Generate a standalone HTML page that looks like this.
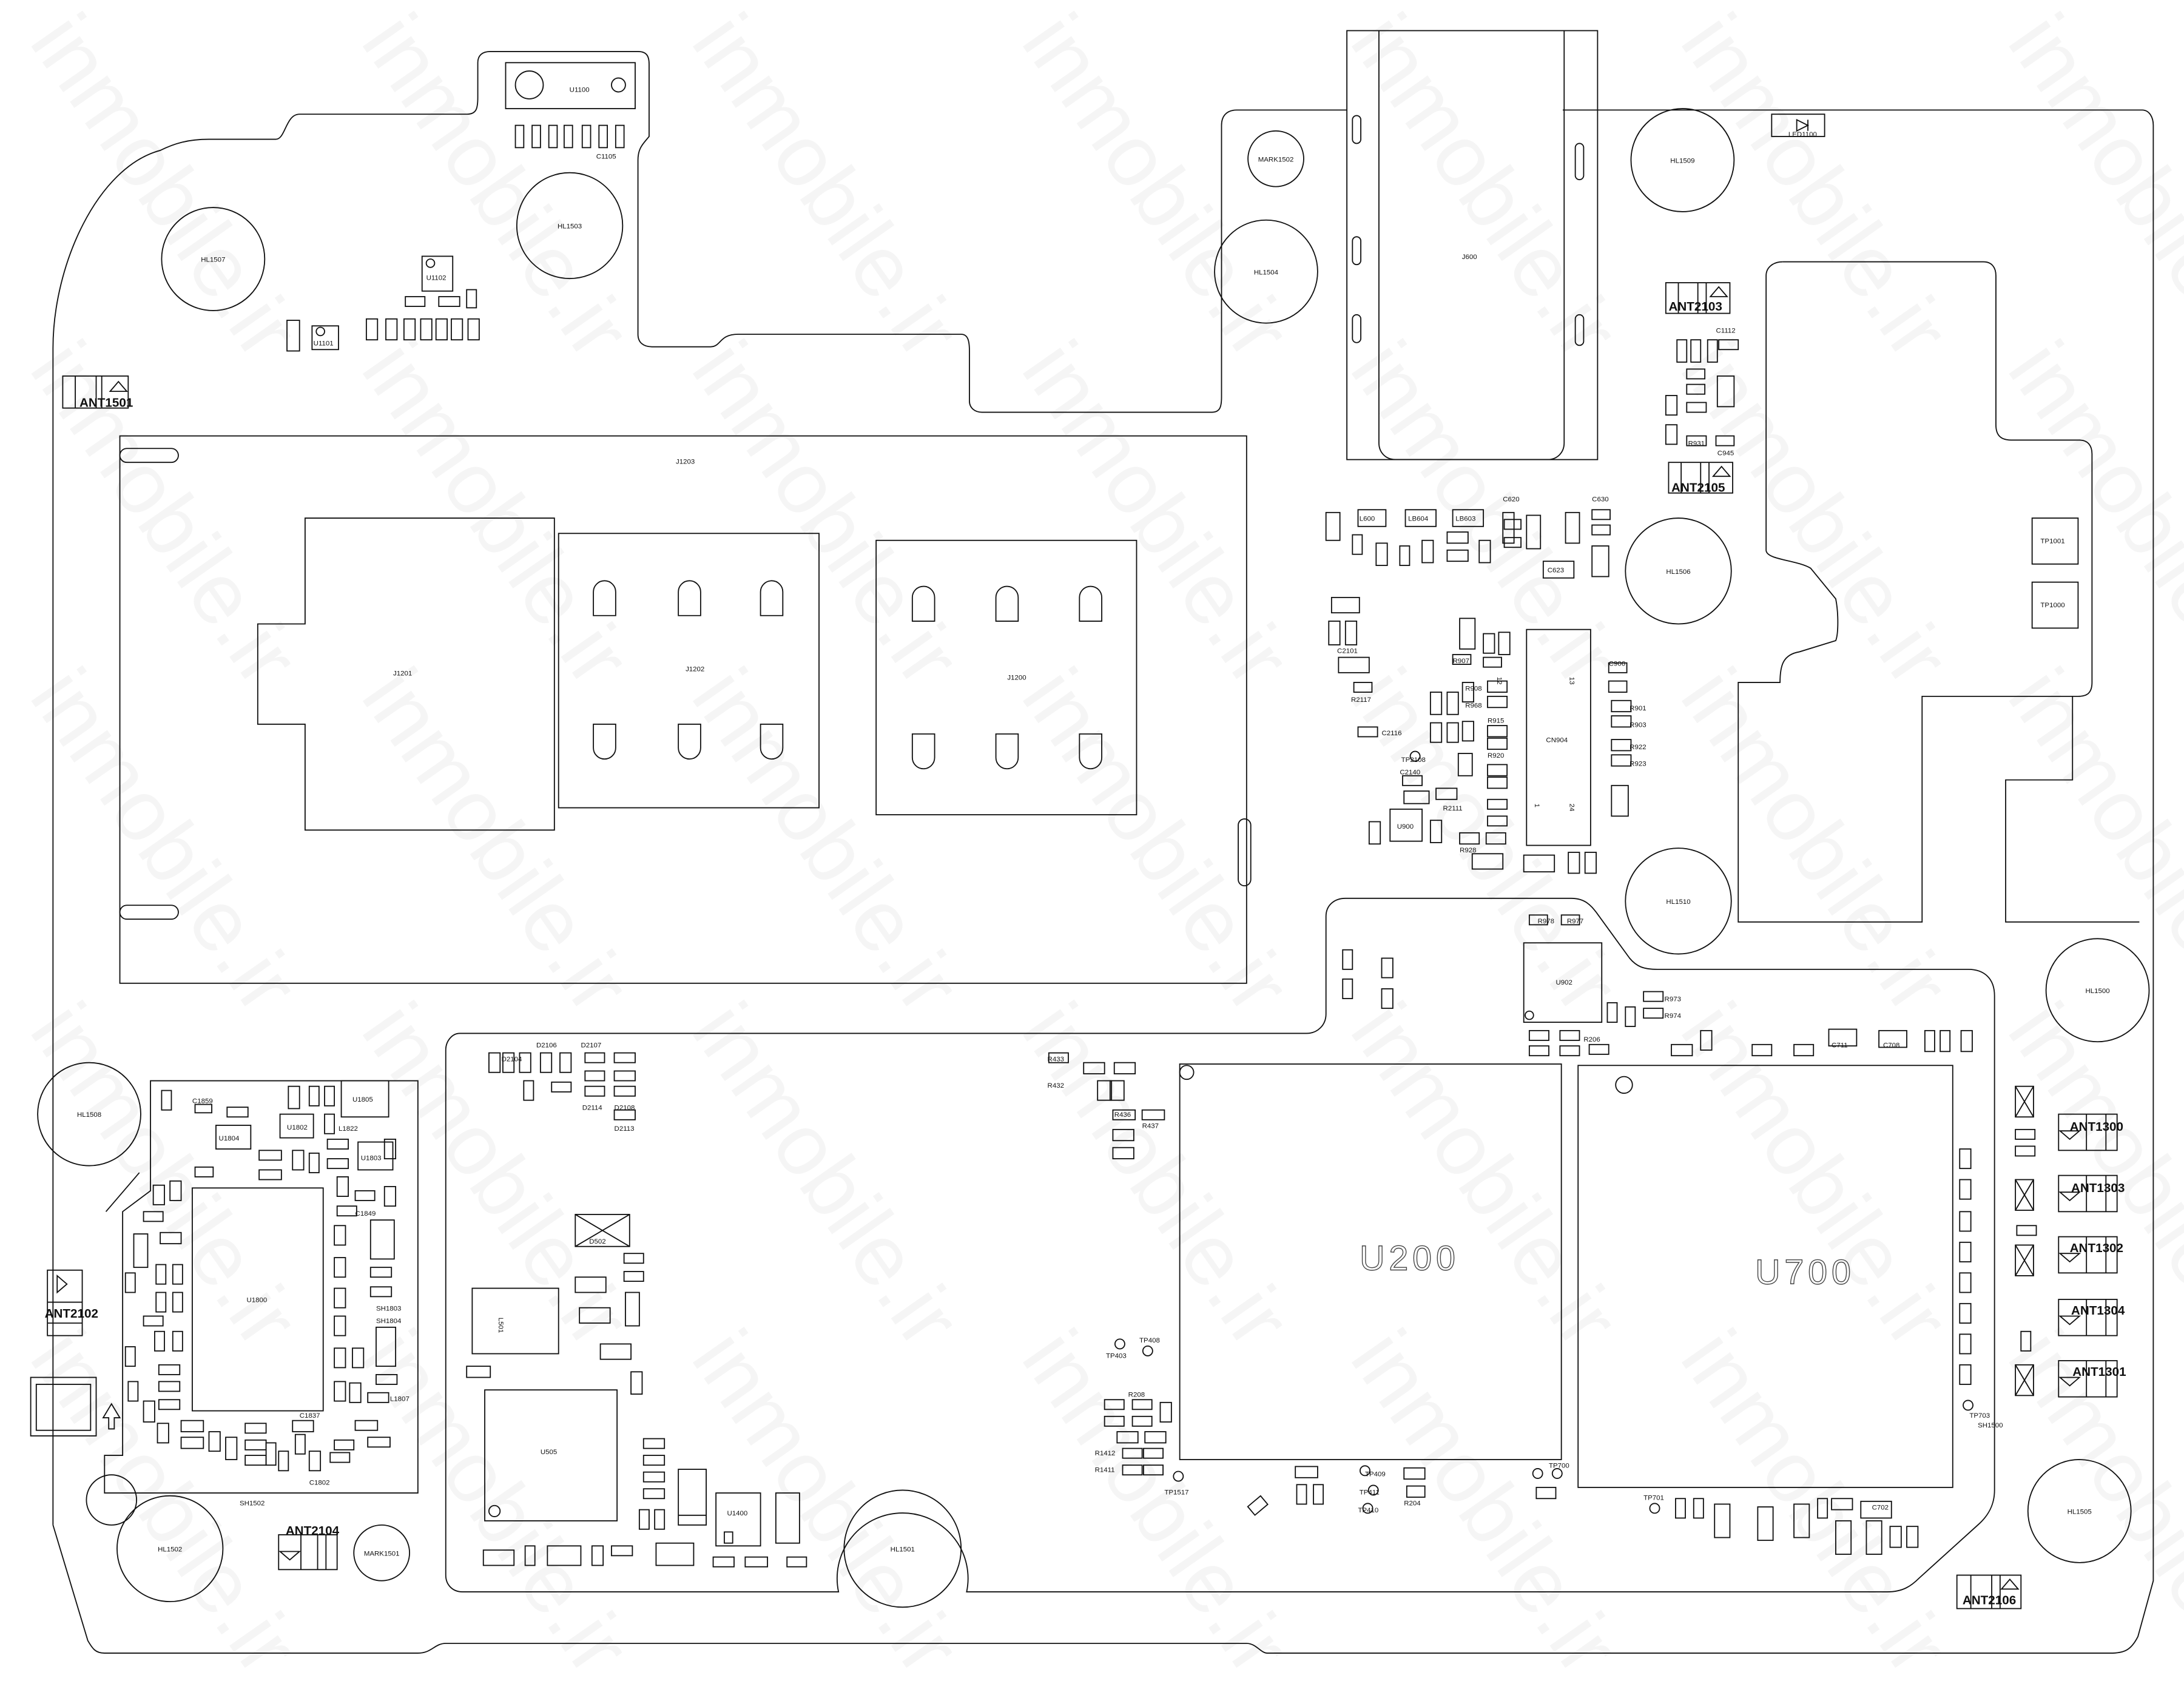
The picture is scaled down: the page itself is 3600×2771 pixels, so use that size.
<!DOCTYPE html>
<html><head><meta charset="utf-8"><style>
html,body{margin:0;padding:0;background:#fff}
svg{display:block}
text{font-family:"Liberation Sans",sans-serif;fill:#111}
.s{fill:none;stroke:#111;stroke-width:0.8}
.w{fill:#f5f5f5;font-size:62px;font-family:"Liberation Sans",sans-serif}
.l{font-size:5px}
.b{font-size:9px;font-weight:bold;font-family:"Liberation Sans Narrow","Liberation Sans",sans-serif}
</style></head><body>
<svg width="3600" height="2771" viewBox="0 0 1568 1207" xmlns="http://www.w3.org/2000/svg">
<rect width="1568" height="1207" fill="#fff"/>
<g>
<text class="w" transform="translate(20,30) rotate(55)">inmobile.ir</text>
<text class="w" transform="translate(258,30) rotate(55)">inmobile.ir</text>
<text class="w" transform="translate(495,30) rotate(55)">inmobile.ir</text>
<text class="w" transform="translate(732,30) rotate(55)">inmobile.ir</text>
<text class="w" transform="translate(968,30) rotate(55)">inmobile.ir</text>
<text class="w" transform="translate(1205,30) rotate(55)">inmobile.ir</text>
<text class="w" transform="translate(1440,30) rotate(55)">inmobile.ir</text>
<text class="w" transform="translate(20,265) rotate(55)">inmobile.ir</text>
<text class="w" transform="translate(258,265) rotate(55)">inmobile.ir</text>
<text class="w" transform="translate(495,265) rotate(55)">inmobile.ir</text>
<text class="w" transform="translate(732,265) rotate(55)">inmobile.ir</text>
<text class="w" transform="translate(968,265) rotate(55)">inmobile.ir</text>
<text class="w" transform="translate(1205,265) rotate(55)">inmobile.ir</text>
<text class="w" transform="translate(1440,265) rotate(55)">inmobile.ir</text>
<text class="w" transform="translate(20,500) rotate(55)">inmobile.ir</text>
<text class="w" transform="translate(258,500) rotate(55)">inmobile.ir</text>
<text class="w" transform="translate(495,500) rotate(55)">inmobile.ir</text>
<text class="w" transform="translate(732,500) rotate(55)">inmobile.ir</text>
<text class="w" transform="translate(968,500) rotate(55)">inmobile.ir</text>
<text class="w" transform="translate(1205,500) rotate(55)">inmobile.ir</text>
<text class="w" transform="translate(1440,500) rotate(55)">inmobile.ir</text>
<text class="w" transform="translate(20,740) rotate(55)">inmobile.ir</text>
<text class="w" transform="translate(258,740) rotate(55)">inmobile.ir</text>
<text class="w" transform="translate(495,740) rotate(55)">inmobile.ir</text>
<text class="w" transform="translate(732,740) rotate(55)">inmobile.ir</text>
<text class="w" transform="translate(968,740) rotate(55)">inmobile.ir</text>
<text class="w" transform="translate(1205,740) rotate(55)">inmobile.ir</text>
<text class="w" transform="translate(1440,740) rotate(55)">inmobile.ir</text>
<text class="w" transform="translate(20,975) rotate(55)">inmobile.ir</text>
<text class="w" transform="translate(258,975) rotate(55)">inmobile.ir</text>
<text class="w" transform="translate(495,975) rotate(55)">inmobile.ir</text>
<text class="w" transform="translate(732,975) rotate(55)">inmobile.ir</text>
<text class="w" transform="translate(968,975) rotate(55)">inmobile.ir</text>
<text class="w" transform="translate(1205,975) rotate(55)">inmobile.ir</text>
<text class="w" transform="translate(1440,975) rotate(55)">inmobile.ir</text>
</g>

<!-- board outline -->
<path class="s" d="M38,1095 L38,250 C38,190 70,120 115,108 C125,103 135,100 150,100 L198,100 C205,100 205,82 215,82 L335,82 C342,82 343,78 343,70 L343,45 C343,40 346,37 352,37 L458,37 C464,37 466,40 466,46 L466,98 C462,103 458,106 458,115 L458,240 C458,246 462,249 468,249 L510,249 C518,249 516,240 530,240 L690,240 C695,240 696,245 696,252 L696,288 C696,293 700,296 705,296 L870,296 C876,296 877,292 877,285 L877,90 C877,84 880,79 888,79 L967,79"/>
<path class="s" d="M1122,79 L1538,79 C1543,79 1546,84 1546,90 L1546,1135 L1535,1175 C1530,1185 1525,1187 1515,1187 L910,1187 C905,1187 902,1180 895,1180 L320,1180 C312,1180 310,1187 300,1187 L75,1187 C68,1187 66,1183 63,1178 L38,1095"/>
<!-- J600 -->
<rect class="s" x="967" y="22" width="180" height="308"/>
<path class="s" d="M990,22 L990,318 C990,325 995,330 1002,330 L1111,330 C1118,330 1123,325 1123,318 L1123,22"/>
<rect class="s" x="971" y="83" width="6" height="20" rx="3"/><rect class="s" x="971" y="170" width="6" height="20" rx="3"/><rect class="s" x="971" y="226" width="6" height="20" rx="3"/>
<rect class="s" x="1131" y="103" width="6" height="26" rx="3"/><rect class="s" x="1131" y="226" width="6" height="22" rx="3"/>
<text class="l" x="1055" y="186" text-anchor="middle">J600</text>
<!-- right inner cavity -->
<path class="s" d="M1280,188 L1424,188 C1430,188 1433,192 1433,198 L1433,305 C1433,312 1436,316 1444,316 L1493,316 C1499,316 1502,320 1502,326 L1502,490 C1502,498 1498,500 1492,500 L1488,500 L1488,560 L1440,560 L1440,662 L1536,662"/>
<path class="s" d="M1268,198 C1268,192 1273,188 1280,188 M1268,198 L1268,395 C1268,402 1290,402 1300,408 L1318,430 C1320,440 1320,455 1318,460 L1292,468 C1280,470 1278,478 1278,490 L1248,490 L1248,662 L1380,662 L1380,500 L1488,500"/>
<!-- bottom shield outline -->
<path class="s" d="M330,742 L938,742 C946,742 952,736 952,728 L952,658 C952,650 958,645 966,645 L1128,645 C1138,645 1142,650 1146,655 L1170,688 C1175,694 1180,696 1190,696 L1413,696 C1425,696 1432,703 1432,715 L1432,1070 C1432,1080 1428,1088 1420,1095 L1378,1133 C1372,1139 1366,1143 1355,1143 L694,1143 A47,47 0 1 0 602,1143 L332,1143 C325,1143 320,1138 320,1131 L320,754 C320,747 325,742 330,742 Z"/>
<!-- J1203 -->
<rect class="s" x="86" y="313" width="809" height="393"/>
<rect class="s" x="86" y="322" width="42" height="10" rx="5"/>
<rect class="s" x="86" y="650" width="42" height="10" rx="5"/>
<rect class="s" x="889" y="588" width="9" height="48" rx="4.5"/>
<text class="l" x="492" y="333" text-anchor="middle">J1203</text>
<!-- J1201 -->
<path class="s" d="M219,372 L398,372 L398,596 L219,596 L219,520 L185,520 L185,448 L219,448 Z"/>
<text class="l" x="289" y="485" text-anchor="middle">J1201</text>
<rect class="s" x="401" y="383" width="187" height="197"/>
<text class="l" x="499" y="482" text-anchor="middle">J1202</text>
<rect class="s" x="629" y="388" width="187" height="197"/>
<text class="l" x="730" y="488" text-anchor="middle">J1200</text>
<g class="s">
<path d="M426,442 L426,425 A8,8 0 0 1 442,425 L442,442 Z"/><path d="M487,442 L487,425 A8,8 0 0 1 503,425 L503,442 Z"/><path d="M546,442 L546,425 A8,8 0 0 1 562,425 L562,442 Z"/>
<path d="M426,520 L426,537 A8,8 0 0 0 442,537 L442,520 Z"/><path d="M487,520 L487,537 A8,8 0 0 0 503,537 L503,520 Z"/><path d="M546,520 L546,537 A8,8 0 0 0 562,537 L562,520 Z"/>
<path d="M655,446 L655,429 A8,8 0 0 1 671,429 L671,446 Z"/><path d="M715,446 L715,429 A8,8 0 0 1 731,429 L731,446 Z"/><path d="M775,446 L775,429 A8,8 0 0 1 791,429 L791,446 Z"/>
<path d="M655,527 L655,544 A8,8 0 0 0 671,544 L671,527 Z"/><path d="M715,527 L715,544 A8,8 0 0 0 731,544 L731,527 Z"/><path d="M775,527 L775,544 A8,8 0 0 0 791,544 L791,527 Z"/>
</g>
<!-- holes -->
<g class="s">
<circle cx="153" cy="186" r="37"/><circle cx="409" cy="162" r="38"/><circle cx="909" cy="195" r="37"/>
<circle cx="1208" cy="115" r="37"/><circle cx="1205" cy="410" r="38"/><circle cx="1205" cy="647" r="38"/>
<circle cx="1506" cy="711" r="37"/><circle cx="64" cy="800" r="37"/><circle cx="122" cy="1112" r="38"/>
<circle cx="648" cy="1112" r="42"/><circle cx="1493" cy="1085" r="37"/>
<circle cx="916" cy="114" r="20"/><circle cx="274" cy="1115" r="20"/><circle cx="80" cy="1077" r="18"/>
</g>
<g class="l" text-anchor="middle">
<text x="153" y="188">HL1507</text><text x="409" y="164">HL1503</text><text x="909" y="197">HL1504</text>
<text x="1208" y="117">HL1509</text><text x="1205" y="412">HL1506</text><text x="1205" y="649">HL1510</text>
<text x="1506" y="713">HL1500</text><text x="64" y="802">HL1508</text><text x="122" y="1114">HL1502</text>
<text x="648" y="1114">HL1501</text><text x="1493" y="1087">HL1505</text>
<text x="916" y="116">MARK1502</text><text x="274" y="1117">MARK1501</text>
</g>
<!-- U1100 -->
<rect class="s" x="363" y="45" width="93" height="33"/>
<circle class="s" cx="380" cy="61" r="10"/><circle class="s" cx="444" cy="61" r="5"/>
<text class="l" x="416" y="66" text-anchor="middle">U1100</text>
<g class="s"><rect x="370" y="90" width="6" height="16"/><rect x="382" y="90" width="6" height="16"/><rect x="394" y="90" width="6" height="16"/><rect x="405" y="90" width="6" height="16"/><rect x="418" y="90" width="6" height="16"/><rect x="430" y="90" width="6" height="16"/><rect x="442" y="90" width="6" height="16"/></g>
<text class="l" x="428" y="114">C1105</text>
<rect class="s" x="303" y="184" width="22" height="25"/><circle class="s" cx="309" cy="189" r="3"/><text class="l" x="306" y="201">U1102</text>
<rect class="s" x="224" y="234" width="19" height="17"/><circle class="s" cx="230" cy="238" r="3"/><text class="l" x="225" y="248">U1101</text>
<rect class="s" x="206" y="230" width="9" height="22"/>
<g class="s"><rect x="291" y="213" width="14" height="7"/><rect x="315" y="213" width="15" height="7"/><rect x="335" y="208" width="7" height="13"/>
<rect x="263" y="229" width="8" height="15"/><rect x="277" y="229" width="8" height="15"/><rect x="290" y="229" width="8" height="15"/><rect x="302" y="229" width="8" height="15"/><rect x="313" y="229" width="8" height="15"/><rect x="324" y="229" width="8" height="15"/><rect x="336" y="229" width="8" height="15"/></g>
<!-- ANT blocks -->
<g class="s">
<rect x="45" y="270" width="47" height="23"/><line x1="54" y1="270" x2="54" y2="293"/><line x1="69" y1="270" x2="69" y2="293"/><line x1="73" y1="270" x2="73" y2="293"/><path d="M79,281 L85,274 L91,281 Z"/>
<rect x="1196" y="203" width="46" height="22"/><line x1="1205" y1="203" x2="1205" y2="225"/><line x1="1219" y1="203" x2="1219" y2="225"/><line x1="1225" y1="203" x2="1225" y2="225"/><path d="M1228,213 L1234,206 L1240,213 Z"/>
<rect x="1198" y="332" width="46" height="22"/><line x1="1207" y1="332" x2="1207" y2="354"/><line x1="1221" y1="332" x2="1221" y2="354"/><line x1="1227" y1="332" x2="1227" y2="354"/><path d="M1230,342 L1236,335 L1242,342 Z"/>
<rect x="34" y="912" width="25" height="47"/><line x1="34" y1="935" x2="59" y2="935"/><line x1="34" y1="950" x2="59" y2="950"/><path d="M41,916 L48,922 L41,928 Z"/>
<rect x="200" y="1102" width="42" height="25"/><line x1="216" y1="1102" x2="216" y2="1127"/><line x1="228" y1="1102" x2="228" y2="1127"/><line x1="234" y1="1102" x2="234" y2="1127"/><path d="M201,1114 L208,1120 L215,1114 Z"/>
<rect x="1405" y="1131" width="46" height="24"/><line x1="1415" y1="1131" x2="1415" y2="1155"/><line x1="1430" y1="1131" x2="1430" y2="1155"/><line x1="1436" y1="1131" x2="1436" y2="1155"/><path d="M1437,1141 L1443,1134 L1449,1141 Z"/>
</g>
<g class="b">
<text x="57" y="292">ANT1501</text><text x="1198" y="223">ANT2103</text><text x="1200" y="353">ANT2105</text>
<text x="32" y="946">ANT2102</text><text x="205" y="1102">ANT2104</text><text x="1409" y="1152">ANT2106</text>
</g>
<g class="s">
<rect x="1478" y="800" width="42" height="26"/><line x1="1498" y1="800" x2="1498" y2="826"/><line x1="1512" y1="800" x2="1512" y2="826"/><path d="M1479,812 L1486,818 L1493,812 Z"/>
<rect x="1478" y="844" width="42" height="26"/><line x1="1498" y1="844" x2="1498" y2="870"/><line x1="1512" y1="844" x2="1512" y2="870"/><path d="M1479,856 L1486,862 L1493,856 Z"/>
<rect x="1478" y="888" width="42" height="26"/><line x1="1498" y1="888" x2="1498" y2="914"/><line x1="1512" y1="888" x2="1512" y2="914"/><path d="M1479,900 L1486,906 L1493,900 Z"/>
<rect x="1478" y="933" width="42" height="26"/><line x1="1498" y1="933" x2="1498" y2="959"/><line x1="1512" y1="933" x2="1512" y2="959"/><path d="M1479,945 L1486,951 L1493,945 Z"/>
<rect x="1478" y="977" width="42" height="26"/><line x1="1498" y1="977" x2="1498" y2="1003"/><line x1="1512" y1="977" x2="1512" y2="1003"/><path d="M1479,989 L1486,995 L1493,989 Z"/>
</g>
<g class="b"><text x="1486" y="812">ANT1300</text><text x="1487" y="856">ANT1303</text><text x="1486" y="899">ANT1302</text><text x="1487" y="944">ANT1304</text><text x="1488" y="988">ANT1301</text></g>
<g class="s"><rect x="1447" y="780" width="13" height="22"/><path d="M1447,780 L1460,802 M1460,780 L1447,802"/>
<rect x="1447" y="847" width="13" height="22"/><path d="M1447,847 L1460,869 M1460,847 L1447,869"/>
<rect x="1447" y="894" width="13" height="22"/><path d="M1447,894 L1460,916 M1460,894 L1447,916"/>
<rect x="1447" y="980" width="13" height="22"/><path d="M1447,980 L1460,1002 M1460,980 L1447,1002"/>
<rect x="1447" y="811" width="14" height="7"/><rect x="1447" y="823" width="14" height="7"/><rect x="1448" y="880" width="14" height="7"/><rect x="1451" y="956" width="7" height="14"/></g>
<!-- big ICs -->
<rect class="s" x="847" y="764" width="274" height="284"/><circle class="s" cx="852" cy="770" r="5"/>
<text x="1012" y="912" text-anchor="middle" style="font-size:25px;fill:none;stroke:#444;stroke-width:0.6;letter-spacing:3px">U200</text>
<rect class="s" x="1133" y="765" width="269" height="303"/><circle class="s" cx="1166" cy="779" r="6"/>
<text x="1296" y="922" text-anchor="middle" style="font-size:25px;fill:none;stroke:#444;stroke-width:0.6;letter-spacing:3px">U700</text>
<rect class="s" x="1094" y="677" width="56" height="57"/><circle class="s" cx="1098" cy="729" r="3"/><text class="l" x="1117" y="707">U902</text>
<!-- CN904 -->
<rect class="s" x="1096" y="452" width="46" height="155"/>
<text class="l" x="1110" y="533">CN904</text>
<text class="l" x="1075" y="486" transform="rotate(90 1075 486)">12</text><text class="l" x="1127" y="486" transform="rotate(90 1127 486)">13</text>
<text class="l" x="1102" y="577" transform="rotate(90 1102 577)">1</text><text class="l" x="1127" y="577" transform="rotate(90 1127 577)">24</text>
<rect class="s" x="998" y="581" width="23" height="23"/><text class="l" x="1003" y="595">U900</text>
<!-- TP1000/1001 -->
<rect class="s" x="1459" y="372" width="33" height="33"/><text class="l" x="1465" y="390">TP1001</text>
<rect class="s" x="1459" y="418" width="33" height="33"/><text class="l" x="1465" y="436">TP1000</text>
<!-- LED -->
<rect class="s" x="1272" y="82" width="38" height="16"/><path class="s" d="M1290,86 L1298,90 L1290,94 Z M1298,86 L1298,94"/><text class="l" x="1284" y="98">LED1100</text>
<!-- region 600/900 small parts -->
<g class="s">
<rect x="952" y="368" width="10" height="20"/><rect x="975" y="366" width="20" height="12"/><rect x="1009" y="366" width="22" height="12"/><rect x="1043" y="366" width="22" height="12"/>
<rect x="971" y="384" width="7" height="14"/><rect x="988" y="390" width="8" height="16"/><rect x="1005" y="392" width="7" height="14"/><rect x="1021" y="388" width="8" height="16"/>
<rect x="1039" y="382" width="15" height="8"/><rect x="1039" y="395" width="15" height="8"/><rect x="1062" y="388" width="8" height="16"/><rect x="1080" y="373" width="12" height="7"/><rect x="1080" y="386" width="12" height="7"/>
<rect x="1079" y="368" width="8" height="22"/><rect x="1096" y="370" width="10" height="24"/><rect x="1108" y="403" width="22" height="12"/><rect x="1124" y="368" width="10" height="22"/>
<rect x="1143" y="366" width="13" height="7"/><rect x="1143" y="377" width="13" height="7"/><rect x="1143" y="392" width="12" height="22"/>
<rect x="956" y="429" width="20" height="11"/><rect x="954" y="446" width="8" height="17"/><rect x="966" y="446" width="8" height="17"/>
<rect x="961" y="472" width="22" height="11"/><rect x="972" y="490" width="13" height="7"/><rect x="975" y="522" width="14" height="7"/>
<rect x="1048" y="444" width="11" height="22"/><rect x="1065" y="455" width="8" height="14"/><rect x="1076" y="454" width="8" height="16"/>
<rect x="1043" y="470" width="13" height="7"/><rect x="1065" y="472" width="13" height="7"/>
<rect x="1027" y="497" width="8" height="16"/><rect x="1039" y="497" width="8" height="16"/><rect x="1050" y="490" width="8" height="14"/>
<rect x="1027" y="519" width="8" height="14"/><rect x="1039" y="519" width="8" height="14"/><rect x="1050" y="518" width="8" height="14"/><rect x="1047" y="541" width="10" height="16"/>
<rect x="1068" y="489" width="14" height="8"/><rect x="1068" y="500" width="14" height="8"/><rect x="1068" y="521" width="14" height="8"/><rect x="1068" y="530" width="14" height="8"/><rect x="1068" y="549" width="14" height="8"/><rect x="1068" y="558" width="14" height="8"/>
<rect x="1007" y="557" width="14" height="7"/><rect x="1008" y="568" width="18" height="9"/><rect x="1031" y="566" width="15" height="8"/>
<rect x="1068" y="574" width="14" height="7"/><rect x="1068" y="586" width="14" height="7"/><rect x="1067" y="598" width="14" height="8"/><rect x="1048" y="598" width="14" height="8"/>
<rect x="1027" y="589" width="8" height="16"/><rect x="983" y="590" width="8" height="16"/><rect x="1057" y="613" width="22" height="11"/><rect x="1094" y="614" width="22" height="12"/><rect x="1126" y="612" width="8" height="15"/><rect x="1138" y="612" width="8" height="15"/>
<rect x="1155" y="476" width="13" height="7"/><rect x="1155" y="489" width="13" height="8"/><rect x="1157" y="503" width="14" height="8"/><rect x="1157" y="514" width="14" height="8"/><rect x="1157" y="531" width="14" height="8"/><rect x="1157" y="542" width="14" height="8"/><rect x="1157" y="564" width="12" height="22"/>
<rect x="1204" y="244" width="7" height="16"/><rect x="1214" y="244" width="7" height="16"/><rect x="1226" y="244" width="7" height="16"/><rect x="1234" y="244" width="14" height="7"/>
<rect x="1211" y="265" width="13" height="7"/><rect x="1211" y="276" width="13" height="7"/><rect x="1211" y="289" width="14" height="7"/><rect x="1233" y="270" width="12" height="22"/><rect x="1196" y="284" width="8" height="14"/><rect x="1196" y="305" width="8" height="14"/><rect x="1211" y="313" width="14" height="7"/><rect x="1232" y="313" width="13" height="7"/>
<rect x="1098" y="657" width="13" height="7"/><rect x="1121" y="657" width="13" height="7"/><rect x="1180" y="712" width="14" height="7"/><rect x="1180" y="724" width="14" height="7"/>
<rect x="1154" y="720" width="7" height="14"/><rect x="1167" y="723" width="7" height="14"/>
<rect x="1098" y="740" width="14" height="7"/><rect x="1120" y="740" width="14" height="7"/><rect x="1098" y="751" width="14" height="7"/><rect x="1120" y="751" width="14" height="7"/><rect x="1141" y="750" width="14" height="7"/>
<rect x="964" y="682" width="7" height="14"/><rect x="992" y="688" width="8" height="14"/><rect x="964" y="703" width="7" height="14"/><rect x="992" y="710" width="8" height="14"/>
<rect x="1200" y="750" width="15" height="8"/><rect x="1221" y="740" width="8" height="14"/><rect x="1258" y="750" width="14" height="8"/><rect x="1288" y="750" width="14" height="8"/><rect x="1313" y="739" width="20" height="12"/><rect x="1349" y="740" width="20" height="12"/><rect x="1382" y="740" width="7" height="15"/><rect x="1393" y="740" width="7" height="15"/><rect x="1408" y="740" width="8" height="15"/>
<rect x="1407" y="825" width="8" height="14"/><rect x="1407" y="847" width="8" height="14"/><rect x="1407" y="870" width="8" height="14"/><rect x="1407" y="892" width="8" height="14"/><rect x="1407" y="914" width="8" height="14"/><rect x="1407" y="936" width="8" height="14"/><rect x="1407" y="958" width="8" height="14"/><rect x="1407" y="980" width="8" height="14"/>
<rect x="1203" y="1076" width="7" height="14"/><rect x="1216" y="1076" width="7" height="14"/><rect x="1231" y="1080" width="11" height="24"/><rect x="1262" y="1082" width="11" height="24"/><rect x="1288" y="1080" width="11" height="24"/><rect x="1305" y="1076" width="7" height="14"/><rect x="1318" y="1092" width="11" height="24"/><rect x="1340" y="1092" width="11" height="24"/><rect x="1315" y="1076" width="15" height="8"/><rect x="1336" y="1078" width="22" height="12"/><rect x="1357" y="1096" width="8" height="15"/><rect x="1369" y="1096" width="8" height="15"/>
<rect x="1103" y="1068" width="14" height="8"/><rect x="930" y="1053" width="16" height="8"/><rect x="931" y="1066" width="7" height="14"/><rect x="943" y="1066" width="7" height="14"/><rect x="1008" y="1054" width="15" height="8"/><rect x="1010" y="1067" width="13" height="8"/>
<rect x="793" y="1005" width="14" height="7"/><rect x="793" y="1017" width="14" height="7"/><rect x="813" y="1005" width="14" height="7"/><rect x="813" y="1017" width="14" height="7"/><rect x="833" y="1007" width="8" height="14"/><rect x="802" y="1028" width="15" height="8"/><rect x="822" y="1028" width="15" height="8"/><rect x="806" y="1040" width="14" height="7"/><rect x="806" y="1052" width="14" height="7"/><rect x="821" y="1040" width="14" height="7"/><rect x="821" y="1052" width="14" height="7"/>
<rect x="753" y="756" width="14" height="7"/><rect x="778" y="763" width="15" height="8"/><rect x="800" y="763" width="15" height="8"/><rect x="788" y="776" width="10" height="14"/><rect x="797" y="776" width="10" height="14"/><rect x="799" y="797" width="16" height="7"/><rect x="820" y="797" width="16" height="7"/><rect x="799" y="811" width="15" height="8"/><rect x="799" y="824" width="15" height="8"/>
</g>
<!-- bottom-left shield (U1800) -->
<path class="s" d="M108,776 L300,776 L300,1072 L75,1072 L75,1045 L88,1045 L88,870 L108,855 Z"/>
<line class="s" x1="76" y1="870" x2="100" y2="842"/>
<rect class="s" x="138" y="853" width="94" height="160"/><text class="l" x="177" y="935">U1800</text>
<rect class="s" x="245" y="776" width="34" height="26"/><text class="l" x="253" y="791">U1805</text>
<rect class="s" x="201" y="800" width="24" height="17"/><text class="l" x="206" y="811">U1802</text>
<rect class="s" x="155" y="808" width="25" height="17"/><text class="l" x="157" y="819">U1804</text>
<rect class="s" x="257" y="820" width="25" height="20"/><text class="l" x="259" y="833">U1803</text>
<rect class="s" x="266" y="876" width="17" height="28"/><rect class="s" x="270" y="953" width="14" height="28"/>
<rect class="s" x="22" y="989" width="47" height="42"/><rect class="s" x="26" y="994" width="39" height="33"/>
<path class="s" d="M74,1018 L80,1008 L86,1018 L82,1018 L82,1026 L78,1026 L78,1018 Z"/>
<g class="s">
<rect x="116" y="783" width="7" height="14"/><rect x="140" y="793" width="12" height="6"/><rect x="163" y="795" width="15" height="7"/><rect x="207" y="780" width="8" height="16"/><rect x="222" y="780" width="7" height="14"/><rect x="233" y="780" width="7" height="14"/><rect x="233" y="800" width="7" height="14"/>
<rect x="140" y="838" width="13" height="7"/><rect x="186" y="826" width="16" height="7"/><rect x="186" y="840" width="16" height="7"/><rect x="210" y="826" width="8" height="14"/><rect x="222" y="828" width="7" height="14"/><rect x="235" y="818" width="15" height="7"/><rect x="235" y="832" width="15" height="7"/><rect x="242" y="845" width="8" height="14"/>
<rect x="110" y="851" width="8" height="14"/><rect x="122" y="848" width="8" height="14"/><rect x="103" y="870" width="14" height="7"/><rect x="115" y="885" width="15" height="8"/>
<rect x="96" y="886" width="10" height="24"/><rect x="112" y="908" width="7" height="14"/><rect x="124" y="908" width="7" height="14"/><rect x="90" y="914" width="7" height="14"/><rect x="112" y="928" width="7" height="14"/><rect x="124" y="928" width="7" height="14"/><rect x="103" y="945" width="14" height="7"/><rect x="111" y="956" width="7" height="14"/><rect x="124" y="956" width="7" height="14"/><rect x="90" y="967" width="7" height="14"/><rect x="114" y="980" width="15" height="7"/><rect x="114" y="992" width="15" height="7"/><rect x="92" y="992" width="7" height="14"/><rect x="114" y="1005" width="15" height="7"/><rect x="103" y="1006" width="8" height="15"/>
<rect x="113" y="1022" width="8" height="14"/><rect x="130" y="1020" width="16" height="8"/><rect x="130" y="1032" width="16" height="8"/><rect x="150" y="1028" width="8" height="14"/><rect x="162" y="1032" width="8" height="16"/><rect x="176" y="1022" width="15" height="7"/><rect x="176" y="1034" width="15" height="7"/><rect x="176" y="1045" width="15" height="7"/><rect x="191" y="1036" width="7" height="16"/><rect x="200" y="1042" width="7" height="14"/><rect x="210" y="1020" width="15" height="8"/><rect x="212" y="1030" width="7" height="14"/><rect x="222" y="1042" width="8" height="14"/><rect x="240" y="1034" width="14" height="7"/><rect x="237" y="1043" width="14" height="7"/><rect x="255" y="1020" width="16" height="7"/><rect x="264" y="1032" width="16" height="7"/>
<rect x="242" y="866" width="14" height="7"/><rect x="240" y="880" width="8" height="14"/><rect x="240" y="903" width="8" height="14"/><rect x="240" y="925" width="8" height="14"/><rect x="240" y="945" width="8" height="14"/><rect x="240" y="968" width="8" height="14"/><rect x="240" y="992" width="8" height="14"/><rect x="251" y="993" width="8" height="14"/><rect x="255" y="855" width="14" height="7"/><rect x="266" y="910" width="15" height="7"/><rect x="266" y="924" width="15" height="7"/><rect x="270" y="987" width="15" height="7"/><rect x="264" y="1000" width="15" height="7"/><rect x="276" y="818" width="8" height="14"/><rect x="276" y="852" width="8" height="14"/><rect x="253" y="968" width="8" height="14"/>
</g>
<text class="l" x="172" y="1081">SH1502</text>
<!-- 500 section -->
<rect class="s" x="339" y="925" width="62" height="47"/><text class="l" x="360" y="952" transform="rotate(90 362 948)">L501</text>
<rect class="s" x="348" y="998" width="95" height="94"/><circle class="s" cx="355" cy="1085" r="4"/><text class="l" x="388" y="1044">U505</text>
<rect class="s" x="413" y="872" width="39" height="23"/><path class="s" d="M413,872 L452,895 M452,872 L413,895"/><text class="l" x="423" y="893">D502</text>
<rect class="s" x="487" y="1055" width="20" height="40"/><line class="s" x1="487" y1="1088" x2="507" y2="1088"/>
<rect class="s" x="514" y="1072" width="32" height="38"/><rect class="s" x="520" y="1100" width="6" height="8"/><text class="l" x="522" y="1088">U1400</text>
<rect class="s" x="557" y="1072" width="17" height="36"/>
<g class="s">
<rect x="413" y="917" width="22" height="11"/><rect x="416" y="939" width="22" height="11"/><rect x="431" y="965" width="22" height="11"/><rect x="448" y="900" width="14" height="7"/><rect x="448" y="913" width="14" height="7"/><rect x="449" y="928" width="10" height="24"/><rect x="335" y="981" width="17" height="8"/><rect x="453" y="985" width="8" height="16"/>
<rect x="462" y="1033" width="15" height="7"/><rect x="462" y="1045" width="15" height="7"/><rect x="462" y="1057" width="15" height="7"/><rect x="462" y="1069" width="15" height="7"/><rect x="459" y="1084" width="7" height="14"/><rect x="470" y="1084" width="7" height="14"/>
<rect x="347" y="1113" width="22" height="11"/><rect x="377" y="1110" width="7" height="14"/><rect x="393" y="1110" width="24" height="14"/><rect x="425" y="1110" width="8" height="14"/><rect x="439" y="1110" width="15" height="7"/><rect x="471" y="1108" width="27" height="16"/>
<rect x="512" y="1118" width="15" height="7"/><rect x="535" y="1118" width="16" height="7"/><rect x="565" y="1118" width="14" height="7"/>
<rect x="351" y="756" width="8" height="14"/><rect x="361" y="756" width="8" height="14"/><rect x="373" y="756" width="8" height="14"/><rect x="388" y="756" width="8" height="14"/><rect x="402" y="756" width="8" height="14"/><rect x="376" y="776" width="7" height="14"/><rect x="396" y="777" width="14" height="7"/>
<rect x="420" y="756" width="14" height="7"/><rect x="441" y="756" width="15" height="7"/><rect x="420" y="769" width="14" height="7"/><rect x="441" y="769" width="15" height="7"/><rect x="420" y="780" width="14" height="7"/><rect x="441" y="780" width="15" height="7"/><rect x="441" y="797" width="15" height="7"/>
</g>
<g class="s"><circle cx="1413" cy="1009" r="3.5"/><circle cx="804" cy="965" r="3.5"/><circle cx="824" cy="970" r="3.5"/><circle cx="846" cy="1060" r="3.5"/><circle cx="1118" cy="1058" r="3.5"/><circle cx="1104" cy="1058" r="3.5"/><circle cx="1188" cy="1083" r="3.5"/><circle cx="980" cy="1056" r="3.5"/><circle cx="986" cy="1070" r="3.5"/><circle cx="982" cy="1083" r="3.5"/><circle cx="1016" cy="543" r="3.5"/><rect x="897" y="1077" width="12" height="8" transform="rotate(-40 903 1081)"/></g>
<!-- labels -->
<g class="l">
<text x="1104" y="663">R978</text><text x="1125" y="663">R977</text><text x="1195" y="719">R973</text><text x="1195" y="731">R974</text><text x="1137" y="748">R206</text>
<text x="1414" y="1018">TP703</text><text x="1420" y="1025">SH1500</text><text x="1112" y="1054">TP700</text><text x="1180" y="1077">TP701</text>
<text x="836" y="1073">TP1517</text><text x="818" y="964">TP408</text><text x="794" y="975">TP403</text><text x="786" y="1045">R1412</text><text x="786" y="1057">R1411</text>
<text x="960" y="469">C2101</text><text x="970" y="504">R2117</text><text x="992" y="528">C2116</text><text x="1006" y="547">TP2108</text><text x="1005" y="556">C2140</text><text x="1036" y="582">R2111</text><text x="1048" y="612">R928</text>
<text x="1043" y="476">R907</text><text x="1052" y="496">R908</text><text x="1052" y="508">R968</text><text x="1068" y="519">R915</text><text x="1068" y="544">R920</text><text x="1170" y="510">R901</text><text x="1170" y="522">R903</text><text x="1170" y="538">R922</text><text x="1170" y="550">R923</text><text x="1155" y="478">C906</text>
<text x="1079" y="360">C620</text><text x="1143" y="360">C630</text><text x="976" y="374">L600</text><text x="1011" y="374">LB604</text><text x="1045" y="374">LB603</text><text x="1111" y="411">C623</text>
<text x="1232" y="239">C1112</text><text x="1233" y="327">C945</text><text x="1212" y="320">R931</text>
<text x="360" y="762">D2104</text><text x="385" y="752">D2106</text><text x="417" y="752">D2107</text><text x="418" y="797">D2114</text><text x="441" y="797">D2108</text><text x="441" y="812">D2113</text>
<text x="752" y="762">R433</text><text x="752" y="781">R432</text><text x="820" y="810">R437</text><text x="800" y="802">R436</text>
<text x="810" y="1003">R208</text><text x="1008" y="1081">R204</text><text x="980" y="1060">TP409</text><text x="976" y="1073">TP411</text><text x="975" y="1086">TP410</text>
<text x="138" y="792">C1859</text><text x="243" y="812">L1822</text><text x="255" y="873">C1849</text><text x="270" y="941">SH1803</text><text x="270" y="950">SH1804</text><text x="280" y="1006">L1807</text><text x="215" y="1018">C1837</text><text x="222" y="1066">C1802</text>
<text x="1344" y="1084">C702</text><text x="1315" y="752">C711</text><text x="1352" y="752">C708</text>
</g>
</svg>
</body></html>
